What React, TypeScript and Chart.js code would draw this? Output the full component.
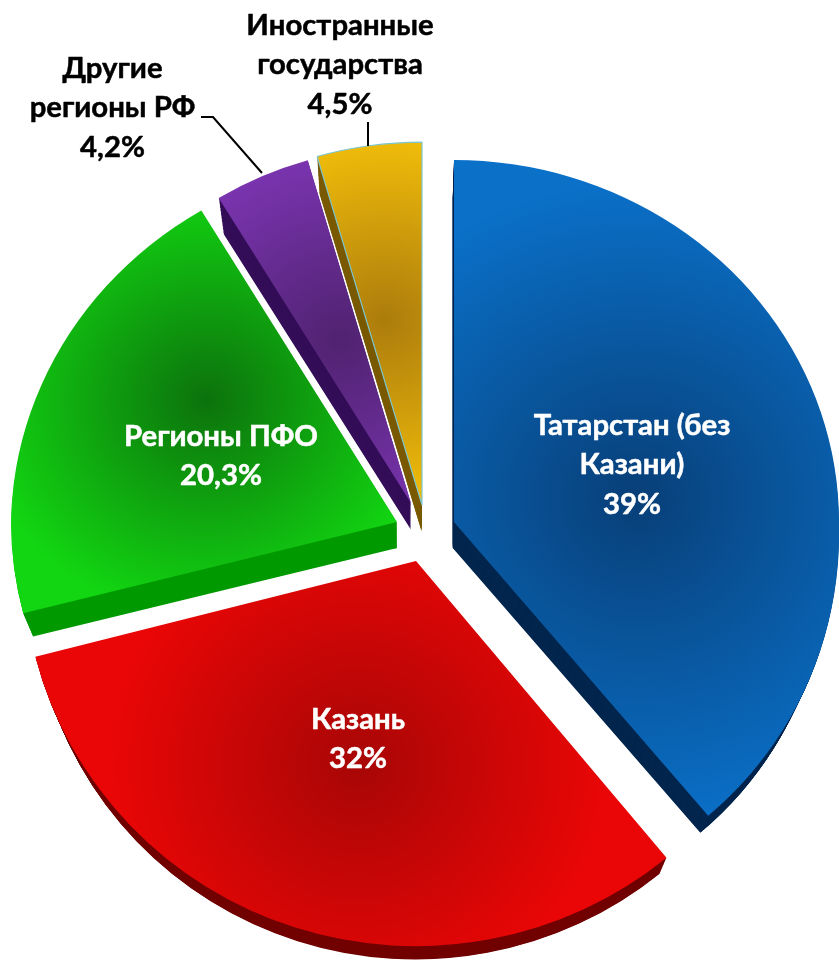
import React, { useEffect, useRef } from "react";
import { Chart, registerables } from "chart.js";

Chart.register(...registerables);

const categories = ["Татарстан (без Казани)", "Казань", "Регионы ПФО", "Другие регионы РФ", "Иностранные государства"];
const shares = [39, 32, 20.3, 4.2, 4.5];
const labelLines = [["Татарстан (без", "Казани)"], ["Казань"], ["Регионы ПФО"], ["Другие", "регионы РФ"], ["Иностранные", "государства"]];

// exploded, perspective look of each slice: apex, radius, vertical squash above/below apex, shear
const apexX = [454, 416, 397, 411, 422];
const apexY = [522, 561, 522, 503, 505];
const radii = [385, 393, 386, 370, 376];
const squashUp = [0.94, 1, 0.945, 0.965, 0.965];
const squashDown = [0.99, 0.98, 0.95, 1, 1];
const shearUp = [0, 0, -0.016, 0, 0];
const shearDown = [0.03, 0, 0, 0, 0];

const glowX = [636, 358, 205, 340, 385];
const glowY = [498, 765, 400, 340, 320];
const glowR = [335, 250, 230, 230, 210];
const innerColors = ["#083f78", "#a80606", "#0c720c", "#502270", "#ac7c0c"];
const outerColors = ["#0a70c8", "#ea0606", "#12d612", "#8238bc", "#f8c40a"];
const sideColors = ["#03264e", "#720000", "#009a00", "#340e58", "#7a5a00"];

const textColors = ["#ffffff", "#ffffff", "#ffffff", "#000000", "#000000"];
const textX = [632, 358, 221, 112.5, 340];
const textY = [435, 729, 446, 78, 35];
const LINE = 39.3;
const FONT = "bold 29.3px Lato, Carlito, 'Open Sans', sans-serif";

const sideDepth = 26;

const formatShare = (v: number) => String(v).replace(".", ",") + "%";

const pie3d = {
  id: "pie3d",
  beforeDatasetDraw(chart: any) {
    const { ctx, width, height } = chart;
    const arcs = chart.getDatasetMeta(0).data;

    const place = (i: number, arc: any, up: boolean) => {
      const k = radii[i] / arc.outerRadius;
      const sy = up ? squashUp[i] : squashDown[i];
      const sh = up ? shearUp[i] : shearDown[i];
      ctx.translate(apexX[i], apexY[i]);
      ctx.transform(1, 0, sh, 1, 0, 0);
      ctx.scale(k, k * sy);
      ctx.translate(-arc.x, -arc.y);
      return { k, sy };
    };
    const paint = (arc: any, fill: any, border: boolean) => {
      const base = arc.options;
      arc.options = { ...base, backgroundColor: fill, borderWidth: border ? base.borderWidth : 0 };
      arc.draw(ctx);
      arc.options = base;
    };

    arcs.forEach((arc: any, i: number) => {
      // side wall: the slice pushed down and slightly shrunk, layer by layer
      for (let n = sideDepth; n >= 1; n--) {
        const t = n / sideDepth;
        const a = 1 - 0.026 * t;
        const d = 1 - 0.03 * t;
        const e = 404 * (1 - a);
        const f = (522 * (1 - d)) + 26 * t;
        for (const up of [true, false]) {
          ctx.save();
          ctx.transform(a, 0, 0, d, e, f);
          ctx.beginPath();
          if (up) ctx.rect(-50, -50, width + 100, apexY[i] + 50.5);
          else ctx.rect(-50, apexY[i], width + 100, height + 100);
          ctx.clip();
          place(i, arc, up);
          paint(arc, sideColors[i], false);
          ctx.restore();
        }
      }
      // top surface with radial shading
      for (const up of [true, false]) {
        ctx.save();
        ctx.beginPath();
        if (up) ctx.rect(0, 0, width, apexY[i]);
        else ctx.rect(0, apexY[i], width, height);
        ctx.clip();
        const { k, sy } = place(i, arc, up);
        const lx = arc.x + (glowX[i] - apexX[i]) / k;
        const ly = arc.y + (glowY[i] - apexY[i]) / (k * sy);
        const g = ctx.createRadialGradient(lx, ly, 0, lx, ly, glowR[i] / k);
        g.addColorStop(0, innerColors[i]);
        g.addColorStop(1, outerColors[i]);
        paint(arc, g, true);
        ctx.restore();
      }
    });
    return false;
  },
  afterDraw(chart: any) {
    const { ctx } = chart;
    ctx.save();
    // leader lines
    ctx.strokeStyle = "#000000";
    ctx.lineWidth = 2;
    ctx.beginPath();
    ctx.moveTo(201, 117);
    ctx.lineTo(213, 117);
    ctx.lineTo(262, 173);
    ctx.moveTo(368, 122);
    ctx.lineTo(368, 146);
    ctx.stroke();
    // labels
    ctx.font = FONT;
    ctx.textAlign = "center";
    ctx.textBaseline = "alphabetic";
    ctx.lineWidth = 0.5;
    ctx.lineJoin = "round";
    categories.forEach((_c, i) => {
      const lines = [...labelLines[i], formatShare(shares[i])];
      ctx.fillStyle = textColors[i];
      ctx.strokeStyle = textColors[i];
      lines.forEach((line, n) => {
        ctx.fillText(line, textX[i], textY[i] + n * LINE);
        ctx.strokeText(line, textX[i], textY[i] + n * LINE);
      });
    });
    ctx.restore();
  },
};

export default function App() {
  const ref = useRef<HTMLCanvasElement>(null);
  useEffect(() => {
    const chart = new Chart(ref.current as HTMLCanvasElement, {
      type: "pie",
      data: {
        labels: categories,
        datasets: [
          {
            data: shares,
            backgroundColor: outerColors,
            borderColor: "#7cc6d2",
            borderWidth: [0, 0, 0, 0, 1.2],
            offset: 0,
          },
        ],
      },
      options: {
        responsive: false,
        animation: false,
        radius: 380,
        layout: { padding: 0 },
        plugins: { legend: { display: false }, tooltip: { enabled: false } },
      },
      plugins: [pie3d],
    } as any);
    return () => chart.destroy();
  }, []);
  return (
    <div style={{ position: "absolute", left: 0, top: 0, width: 839, height: 960, background: "#ffffff" }}>
      <canvas ref={ref} width={839} height={960} style={{ display: "block" }} />
    </div>
  );
}
